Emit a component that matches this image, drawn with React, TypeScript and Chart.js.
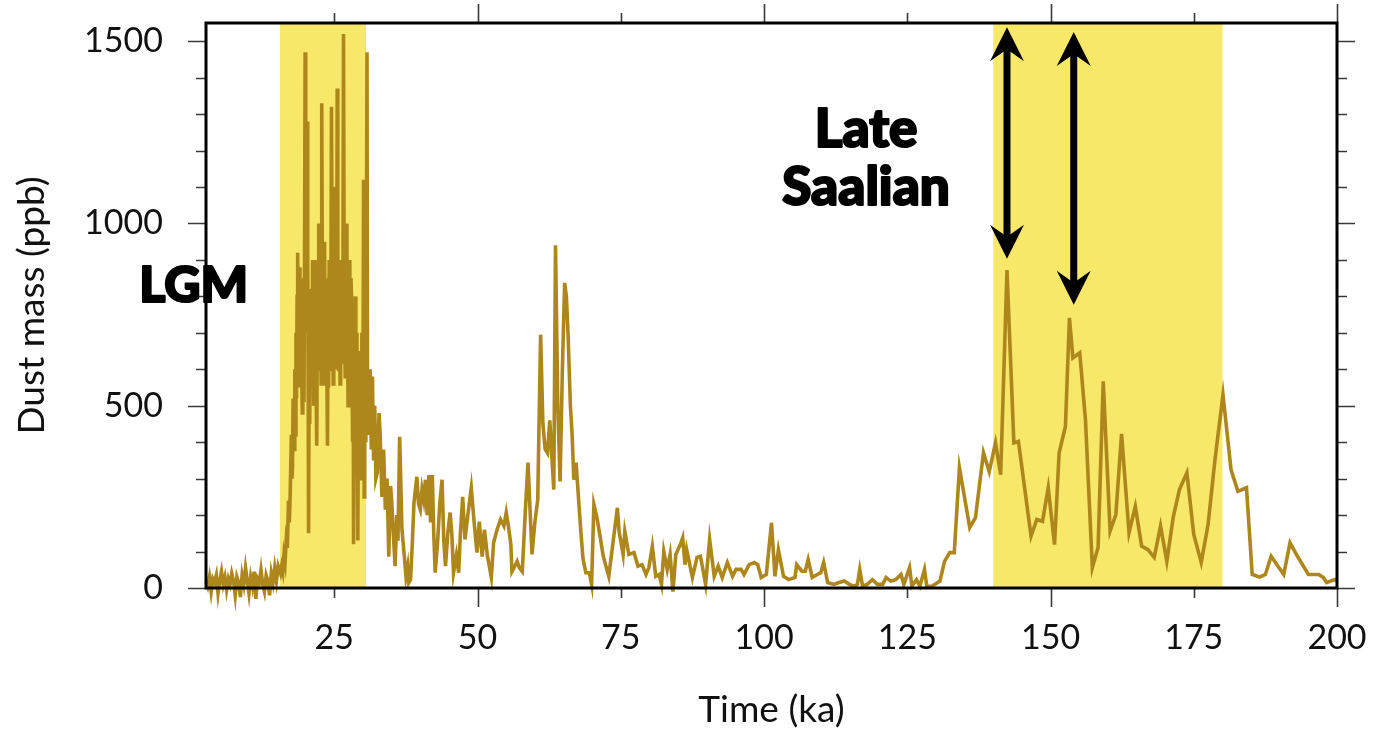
import React, { useEffect, useRef } from "react";
import { Chart, registerables } from "chart.js";

Chart.register(...registerables);

// ---- Data (time in ka, dust mass in ppb) ----
const timeKa = [
  2.6, 2.9, 3.2, 3.5, 3.8, 4.1, 4.4, 4.7, 5.0, 5.3,
  5.6, 5.9, 6.2, 6.5, 6.8, 7.1, 7.4, 7.7, 8.0, 8.3,
  8.6, 8.9, 9.2, 9.5, 9.8, 10.1, 10.4, 10.7, 11.0, 11.3,
  11.6, 11.9, 12.2, 12.5, 12.8, 13.1, 13.4, 13.7, 14.0, 14.3,
  14.6, 14.9, 15.2,
  15.6, 15.8, 16.0, 16.2, 16.4, 16.6, 16.8, 17.0, 17.15, 17.3,
  17.5, 17.6, 17.7, 17.8, 17.9, 18.0, 18.1, 18.2, 18.3, 18.4,
  18.5, 18.6, 18.7, 18.8, 18.9, 19.0, 19.1, 19.2, 19.3, 19.4,
  19.5, 19.6, 19.7, 19.8, 19.9, 20.0, 20.1, 20.2, 20.25, 20.35,
  20.45, 20.5, 20.6, 20.7, 20.8, 20.9, 21.0, 21.1, 21.2, 21.3,
  21.4, 21.5, 21.6, 21.7, 21.8, 21.9, 21.95, 22.05, 22.15, 22.25,
  22.3, 22.4, 22.5, 22.6, 22.7, 22.8, 22.9, 23.0, 23.1, 23.2,
  23.3, 23.4, 23.5, 23.6, 23.7, 23.8, 23.9, 24.0, 24.1, 24.2,
  24.3, 24.4, 24.5, 24.6, 24.7, 24.8, 24.9, 25.0, 25.1, 25.2,
  25.3, 25.4, 25.5, 25.6, 25.7, 25.8, 25.9, 26.0, 26.1, 26.2,
  26.3, 26.4, 26.5, 26.6, 26.7, 26.8, 26.9, 27.0, 27.1, 27.2,
  27.3, 27.4, 27.5, 27.6, 27.7, 27.8, 27.9, 28.0, 28.1, 28.2,
  28.3, 28.35, 28.45, 28.55, 28.65, 28.75, 28.85, 28.95, 29.05, 29.1,
  29.2, 29.3, 29.4, 29.5, 29.6, 29.7, 29.8, 29.9, 30.0, 30.1,
  30.2, 30.3, 30.4, 30.5, 30.7, 30.8, 30.9, 31.0, 31.1, 31.25,
  31.45, 31.65, 31.85, 32.05, 32.25, 32.5, 32.8, 33.0, 33.3, 33.6,
  33.9, 34.2, 34.5, 34.8, 35.0, 35.3, 35.6, 35.9, 36.1, 36.4,
  36.8, 37.2, 37.5, 37.8, 38.0, 38.3, 38.6, 38.9, 39.2, 39.4,
  39.7, 40.0, 40.3, 40.6, 40.9, 41.2, 41.5, 41.8, 42.1, 42.35,
  42.6, 43.0, 43.4, 43.8, 44.1, 44.4, 44.8, 45.2, 45.5, 45.8,
  46.3, 46.7, 47.0, 47.4, 47.8, 48.3, 48.9, 49.4, 49.9, 50.3,
  50.8, 51.2, 51.7, 52.4, 52.8, 53.4, 54.0, 54.6, 55.0, 55.4,
  55.8, 56.0, 56.5, 56.9, 57.3, 57.8, 58.3, 58.8, 59.5, 60.0,
  60.5, 61.0, 61.4, 61.8, 62.2, 62.6, 63.0, 63.3, 63.6, 64.0,
  64.4, 64.8, 65.2, 65.5, 65.8, 66.2, 66.5, 66.8, 67.2, 67.6,
  68.0, 68.4, 68.9, 69.5, 69.9, 70.3, 70.8, 71.3, 71.9, 72.4,
  72.9, 73.6, 74.4, 74.7, 75.4, 75.7, 76.4, 77.3, 78.0, 78.7,
  79.4, 79.9, 80.5, 81.1, 81.7, 82.1, 82.5, 83.1, 83.6, 84.1,
  84.6, 85.4, 85.8, 86.2, 86.5, 87.5, 88.3, 88.9, 89.8, 90.5,
  91.3, 92.0, 92.7, 93.6, 94.5, 95.1, 96.0, 96.5, 97.4, 98.3,
  98.9, 99.5, 100.4, 101.3, 101.9, 102.5, 103.4, 104.3, 105.4, 105.7,
  106.6, 107.2, 107.7, 108.4, 109.3, 109.9, 110.4, 111.1, 112.2, 113.1,
  114.0, 114.9, 115.7, 116.3, 116.7, 117.2, 118.0, 118.9, 119.8, 120.7,
  121.3, 122.1, 123.0, 123.9, 124.4, 125.4, 125.8, 126.6, 127.2, 128.0,
  128.4, 129.3, 130.7, 131.5, 132.4, 133.2, 134.1, 135.9, 136.9, 138.3,
  139.3, 140.4, 141.3, 142.4, 143.6, 144.4, 146.6, 147.6, 148.6, 149.6,
  150.7, 151.5, 152.6, 153.3, 153.9, 155.1, 156.1, 157.3, 158.3, 159.2,
  160.4, 161.4, 162.4, 163.7, 164.8, 165.9, 167.0, 168.1, 169.2, 170.3,
  171.4, 172.5, 173.8, 175.0, 176.3, 177.5, 178.7, 180.1, 181.5, 182.7,
  184.2, 185.2, 186.5, 187.5, 188.5, 190.7, 191.8, 193.1, 195.0, 196.8,
  197.6, 198.2, 199.6, 200.0,
];

const dustPpb = [
  20, 5, 30, -10, 25, 15, 35, -15, 20, 45,
  10, 30, -5, 25, 10, 40, 20, -20, 30, 15,
  -25, 35, 10, 55, 20, -15, 30, 5, 45, -30,
  25, 15, 50, 10, -10, 35, 20, -20, 40, 15,
  55, 20, 60,
  40, 60, 45, 90, 70, 130, 110, 240, 180, 260,
  420, 300, 330, 520, 450, 380, 600, 420, 700, 520,
  800, 920, 620, 780, 880, 550, 700, 850, 600, 480,
  750, 600, 510, 900, 1470, 700, 820, 1000, 1280, 900,
  500, 150, 600, 450, 650, 820, 700, 560, 900, 800,
  500, 650, 720, 900, 600, 700, 390, 760, 600, 850,
  1000, 700, 620, 760, 560, 1330, 900, 700, 620, 800,
  950, 560, 700, 850, 600, 390, 700, 550, 900, 750,
  600, 800, 1320, 900, 800, 560, 750, 1100, 700, 600,
  850, 700, 1370, 700, 600, 900, 750, 560, 800, 650,
  900, 620, 800, 1520, 900, 700, 580, 800, 1000, 650,
  700, 500, 750, 900, 600, 650, 850, 800, 550, 400,
  600, 120, 450, 600, 800, 500, 700, 450, 300, 130,
  520, 400, 650, 300, 450, 550, 700, 400, 500, 1120,
  250, 450, 600, 400, 1470, 450, 550, 600, 420, 600,
  380, 580, 350, 500, 300, 316, 480, 420, 250, 380,
  215, 300, 86, 280, 242, 150, 60, 200, 130, 415,
  160, 90, 32, 60, 15, 23, 120, 234, 278, 305,
  230, 215, 270, 242, 297, 200, 310, 180, 310, 150,
  42, 120, 230, 297, 130, 60, 150, 207, 150, 42,
  90, 42, 150, 250, 133, 200, 275, 180, 97, 182,
  86, 160, 90, 29, 125, 160, 188, 170, 207, 168,
  120, 45, 60, 73, 55, 45, 200, 344, 92, 180,
  242, 695, 450, 380, 370, 460, 350, 270, 940, 500,
  292, 600, 837, 800, 694, 500, 420, 297, 344, 250,
  160, 80, 42, 42, 10, 229, 196, 150, 90, 60,
  32, 120, 220, 155, 92, 155, 92, 97, 60, 64,
  37, 56, 114, 32, 37, 10, 100, 51, 92, -10,
  92, 120, 138, 64, 105, 29, 84, 87, 10, 133,
  32, 60, 29, 70, 32, 51, 51, 37, 64, 70,
  64, 29, 37, 179, 32, 105, 32, 23, 29, 64,
  46, 46, 78, 29, 37, 42, 70, 15, 10, 15,
  19, 10, 5, 10, 51, 5, 10, 23, 10, 10,
  29, 19, 23, 37, 10, 56, 5, 23, 5, 51,
  5, 5, 19, 73, 97, 97, 330, 166, 193, 371,
  319, 398, 311, 872, 398, 402, 142, 188, 183, 275,
  119, 371, 443, 741, 631, 645, 461, 56, 111, 567,
  156, 201, 423, 152, 224, 115, 105, 84, 170, 73,
  193, 270, 316, 147, 70, 174, 352, 530, 325, 265,
  275, 37, 30, 37, 87, 37, 124, 87, 37, 37,
  29, 15, 23, 18,
];

// ---- Axes ----
const xTickValues = [25, 50, 75, 100, 125, 150, 175, 200];
const xMajorTicks = [50, 100, 150, 200];
const yTickValues = [0, 500, 1000, 1500];
const yMinorTicks = [0, 100, 200, 300, 400, 500, 600, 700, 800, 900, 1000, 1100, 1200, 1300, 1400, 1500];

// ---- Shaded periods (ka) ----
const bandStartKa = [15.5, 140];
const bandEndKa = [30.55, 180];

// ---- Double arrows (ka, ppb) ----
const arrowKa = [142.4, 154.05];
const arrowTopPpb = [1538, 1525];
const arrowBottomPpb = [903, 777];

// ---- Annotations (ka, ppb of baseline) ----
const noteTexts = ["LGM", "Late", "Saalian"];
const noteKa = [0.45, 117.8, 117.8];
const notePpb = [784, 1210, 1051];
const noteSizes = [50, 53, 53];

const FONT = "Lato, 'Open Sans', 'DejaVu Sans', sans-serif";

const decorPlugin = {
  id: "decor",
  beforeDatasetsDraw(chart: any) {
    const { ctx, chartArea: a, scales } = chart;
    const x = scales.x;
    ctx.save();
    ctx.fillStyle = "#F8E86A";
    bandStartKa.forEach((s, i) => {
      const x0 = x.getPixelForValue(s);
      const x1 = x.getPixelForValue(bandEndKa[i]);
      ctx.fillRect(x0, a.top, x1 - x0, a.bottom - a.top);
    });
    ctx.restore();
  },
  afterDatasetsDraw(chart: any) {
    const { ctx, chartArea: a, scales } = chart;
    const x = scales.x;
    const y = scales.y;
    ctx.save();
    ctx.strokeStyle = "#3a3a3a";
    ctx.lineWidth = 1.6;
    ctx.beginPath();
    yMinorTicks.forEach((v) => {
      const py = Math.round(y.getPixelForValue(v)) + 0.5;
      const len = v % 500 === 0 ? 18 : 10;
      ctx.moveTo(a.left - len, py);
      ctx.lineTo(a.left, py);
      ctx.moveTo(a.right, py);
      ctx.lineTo(a.right + len, py);
    });
    xTickValues.forEach((v) => {
      const px = Math.round(x.getPixelForValue(v)) + 0.5;
      const len = xMajorTicks.includes(v) ? 19 : 10;
      ctx.moveTo(px, a.bottom);
      ctx.lineTo(px, a.bottom + len);
      ctx.moveTo(px, a.top - len);
      ctx.lineTo(px, a.top);
    });
    ctx.stroke();
    ctx.strokeStyle = "#000";
    ctx.lineWidth = 3;
    ctx.strokeRect(a.left, a.top, a.right - a.left, a.bottom - a.top);
    ctx.restore();
  },
  afterDraw(chart: any) {
    const { ctx, scales } = chart;
    const x = scales.x;
    const y = scales.y;
    ctx.save();
    ctx.fillStyle = "#000";
    ctx.strokeStyle = "#000";
    arrowKa.forEach((k, i) => {
      const px = x.getPixelForValue(k);
      const top = y.getPixelForValue(arrowTopPpb[i]);
      const bot = y.getPixelForValue(arrowBottomPpb[i]);
      const hw = 17;
      const hl = 34;
      const notch = 22;
      ctx.lineWidth = 7;
      ctx.beginPath();
      ctx.moveTo(px, top + notch);
      ctx.lineTo(px, bot - notch);
      ctx.stroke();
      ctx.beginPath();
      ctx.moveTo(px, top);
      ctx.lineTo(px + hw, top + hl);
      ctx.lineTo(px, top + notch);
      ctx.lineTo(px - hw, top + hl);
      ctx.closePath();
      ctx.fill();
      ctx.beginPath();
      ctx.moveTo(px, bot);
      ctx.lineTo(px + hw, bot - hl);
      ctx.lineTo(px, bot - notch);
      ctx.lineTo(px - hw, bot - hl);
      ctx.closePath();
      ctx.fill();
    });
    ctx.textAlign = "center";
    ctx.textBaseline = "alphabetic";
    ctx.lineJoin = "round";
    ctx.lineWidth = 2.2;
    noteTexts.forEach((t, i) => {
      ctx.font = `900 ${noteSizes[i]}px ${FONT}`;
      const tx = x.getPixelForValue(noteKa[i]);
      const ty = y.getPixelForValue(notePpb[i]);
      ctx.fillText(t, tx, ty);
      ctx.strokeText(t, tx, ty);
    });
    ctx.restore();
  },
};

const zeroPadding = (s: any) => {
  s.paddingLeft = 0;
  s.paddingRight = 0;
  s.paddingTop = 0;
  s.paddingBottom = 0;
};

export default function App() {
  const canvasRef = useRef<HTMLCanvasElement | null>(null);

  useEffect(() => {
    const canvas = canvasRef.current;
    if (!canvas) return;
    const points = timeKa.map((t, i) => ({ x: t, y: dustPpb[i] }));
    const chart = new Chart(canvas, {
      type: "line",
      data: {
        datasets: [
          {
            data: points,
            borderColor: "#AE871C",
            borderWidth: 3.6,
            pointRadius: 0,
            tension: 0,
            clip: false as any,
          },
        ],
      },
      options: {
        responsive: false,
        animation: false,
        layout: { padding: { top: 23, right: 36, left: 0, bottom: 0 } },
        plugins: { legend: { display: false }, tooltip: { enabled: false } },
        scales: {
          x: {
            type: "linear",
            min: 2.6,
            max: 200,
            grid: { display: false, drawTicks: false },
            border: { display: false },
            afterBuildTicks: (s: any) => {
              s.ticks = xTickValues.map((v) => ({ value: v }));
            },
            afterFit: (s: any) => {
              s.height = 142;
              zeroPadding(s);
            },
            ticks: {
              autoSkip: false,
              maxRotation: 0,
              padding: 30,
              color: "#111",
              font: { family: FONT, size: 34 },
              callback: (v: any) => String(v),
            },
            title: {
              display: true,
              text: "Time (ka)",
              color: "#111",
              font: { family: FONT, size: 37, lineHeight: 1.1 },
              padding: { top: 0, bottom: 0 },
            },
          },
          y: {
            type: "linear",
            min: 0,
            max: 1550,
            grid: { display: false, drawTicks: false },
            border: { display: false },
            afterBuildTicks: (s: any) => {
              s.ticks = yTickValues.map((v) => ({ value: v }));
            },
            afterFit: (s: any) => {
              s.width = 206;
              zeroPadding(s);
            },
            ticks: {
              padding: 43,
              color: "#111",
              font: { family: FONT, size: 34 },
              callback: (v: any) => String(v),
            },
            title: {
              display: true,
              text: "Dust mass (ppb)",
              color: "#111",
              font: { family: FONT, size: 37, lineHeight: 1.1 },
              padding: { top: 12, bottom: 0 },
            },
          },
        },
      },
      plugins: [decorPlugin],
    });
    return () => chart.destroy();
  }, []);

  return (
    <div style={{ position: "absolute", left: 0, top: 0, width: 1373, height: 730, background: "#fff" }}>
      <canvas ref={canvasRef} width={1373} height={730} style={{ display: "block" }} />
    </div>
  );
}
